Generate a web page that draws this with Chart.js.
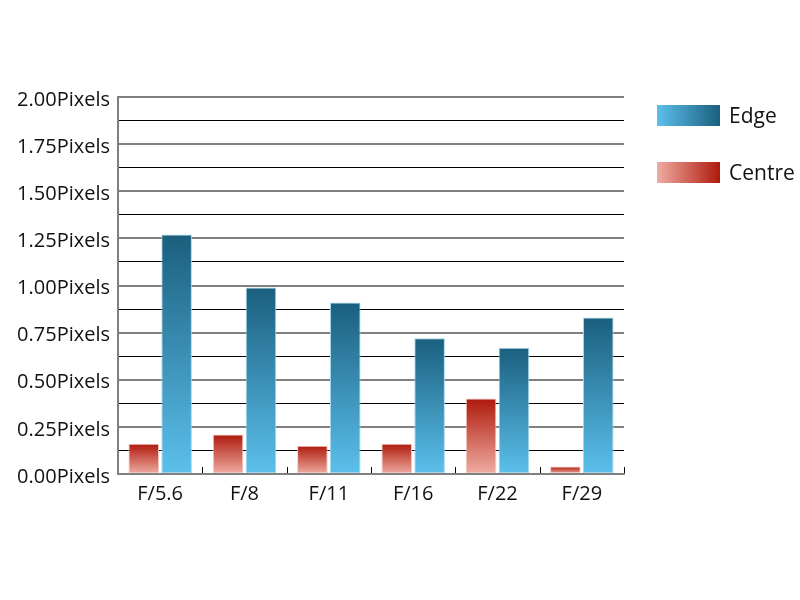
<!DOCTYPE html>
<html>
<head>
<meta charset="utf-8">
<script src="https://cdn.jsdelivr.net/npm/chart.js@4"></script>
<style>
    html, body { margin: 0; padding: 0; background: #fff; }
    #wrap { position: relative; width: 800px; height: 600px; }
    .legend { position: absolute; left: 657px; font-family: "Open Sans", sans-serif; font-size: 21px; color: #111; }
    .legend span.sw { position: absolute; left: 0; width: 63px; height: 21px; }
    .legend span.tx { position: absolute; left: 72px; top: -4px; white-space: nowrap; }
</style>
</head>
<body>
<div id="wrap">
    <canvas id="chart" width="800" height="600"></canvas>
    <div class="legend" style="top:105px"><span class="sw" style="background:linear-gradient(to right,#5cc0ec,#1a5f7e)"></span><span class="tx">Edge</span></div>
    <div class="legend" style="top:162px"><span class="sw" style="background:linear-gradient(to right,#f0aca2,#ae1a0c)"></span><span class="tx">Centre</span></div>
</div>
<script>
const categories = ['F/5.6', 'F/8', 'F/11', 'F/16', 'F/22', 'F/29'];
const centreValues = [0.16, 0.21, 0.15, 0.16, 0.40, 0.04];
const edgeValues = [1.27, 0.99, 0.91, 0.72, 0.67, 0.83];
const yTicks = [0, 0.25, 0.5, 0.75, 1, 1.25, 1.5, 1.75, 2];

// Per-bar vertical gradient (light at base, dark at top)
function barGradient(light, dark) {
    return (context) => {
        const chart = context.chart;
        const y = chart.scales.y;
        if (!chart.chartArea || !y || context.raw === undefined) return dark;
        const top = y.getPixelForValue(context.raw);
        const base = y.getPixelForValue(0);
        if (!isFinite(top) || top === base) return dark;
        const g = chart.ctx.createLinearGradient(0, base, 0, top);
        g.addColorStop(0, light);
        g.addColorStop(1, dark);
        return g;
    };
}

// Small tick marks at the category boundaries, pointing up from the x axis
const boundaryTicks = {
    id: 'boundaryTicks',
    afterDatasetsDraw(chart) {
        const { ctx, chartArea, scales: { x } } = chart;
        ctx.save();
        ctx.strokeStyle = '#000';
        ctx.lineWidth = 1;
        for (let i = 1; i <= categories.length; i++) {
            const px = i < categories.length
                ? (x.getPixelForTick(i - 1) + x.getPixelForTick(i)) / 2
                : chartArea.right - 0.5;
            const xx = Math.round(px) + 0.5;
            ctx.beginPath();
            ctx.moveTo(xx, chartArea.bottom - 1);
            ctx.lineTo(xx, chartArea.bottom - 7);
            ctx.stroke();
        }
        ctx.restore();
    }
};

const font = { family: '"Open Sans", sans-serif', size: 20 };

new Chart(document.getElementById('chart'), {
    type: 'bar',
    data: {
        labels: categories,
        datasets: [
            {
                label: 'Centre',
                data: centreValues,
                backgroundColor: barGradient('#f0aca2', '#ae1a0c'),
                borderColor: '#f4c6bf',
                borderWidth: 1,
                borderSkipped: false
            },
            {
                label: 'Edge',
                data: edgeValues,
                backgroundColor: barGradient('#5cc0ec', '#1a5f7e'),
                borderColor: '#a6d6ec',
                borderWidth: 1,
                borderSkipped: false
            }
        ]
    },
    options: {
        responsive: false,
        animation: false,
        devicePixelRatio: 1,
        layout: { padding: { top: 97, right: 176, bottom: 0, left: 0 } },
        categoryPercentage: 0.78,
        barPercentage: 0.93,
        plugins: {
            legend: { display: false },
            tooltip: { enabled: false }
        },
        scales: {
            x: {
                grid: { display: false },
                border: { color: '#808080', width: 2 },
                ticks: { color: '#111', font, padding: 0, maxRotation: 0 },
                afterFit: (scale) => { scale.height = 126; }
            },
            y: {
                min: 0,
                max: 2,
                afterBuildTicks: (scale) => {
                    const t = [];
                    for (let i = 0; i <= 16; i++) t.push({ value: i * 0.125 });
                    scale.ticks = t;
                },
                grid: {
                    drawTicks: false,
                    color: (c) => yTicks.includes(c.tick.value) ? '#808080' : '#000',
                    lineWidth: (c) => yTicks.includes(c.tick.value) ? 2 : 1
                },
                border: { color: '#808080', width: 2 },
                ticks: {
                    autoSkip: false,
                    color: '#111',
                    font,
                    padding: 8,
                    labelOffset: 3,
                    callback: (v) => yTicks.includes(v) ? v.toFixed(2) + 'Pixels' : ''
                },
                afterFit: (scale) => { scale.width = 118; }
            }
        }
    },
    plugins: [boundaryTicks]
});
</script>
</body>
</html>
